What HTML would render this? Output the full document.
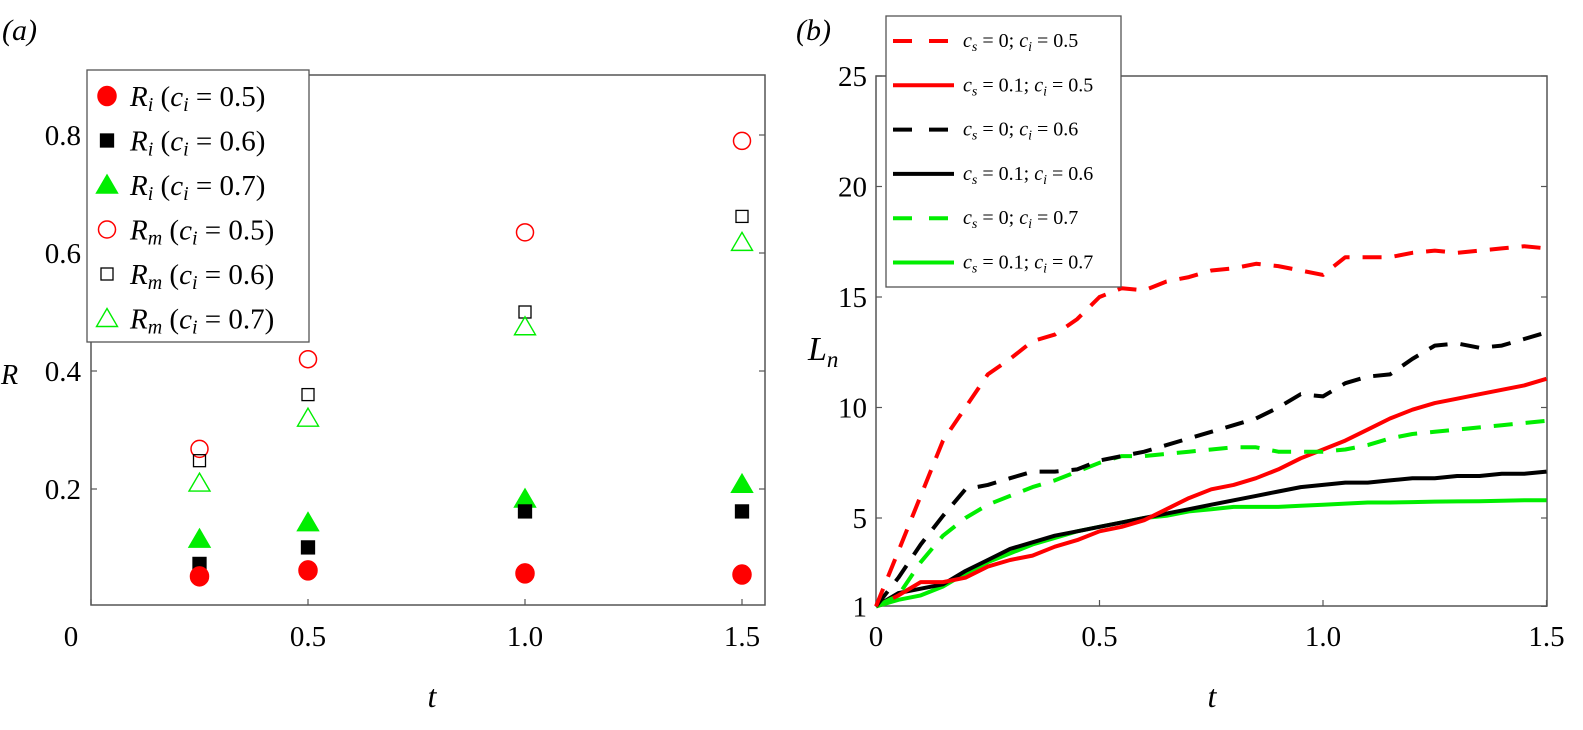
<!DOCTYPE html>
<html><head><meta charset="utf-8"><style>
html,body{margin:0;padding:0;background:#fff;}
svg, svg text{font-family:"Liberation Serif","DejaVu Serif",serif;}
</style></head><body>
<svg id="chart" width="1583" height="725" viewBox="0 0 1583 725" xmlns="http://www.w3.org/2000/svg" font-family="Liberation Serif, DejaVu Serif, serif">
<text x="2" y="40" font-size="30" font-style="italic">(a)</text>
<text x="796" y="40" font-size="30" font-style="italic">(b)</text>
<g id="pa"></g>
<g id="pb"></g>
</svg>
<script>
// Panel (a) data
const tA = [0.25, 0.5, 1.0, 1.5];
const Ri05 = [0.052, 0.062, 0.057, 0.055];
const Ri06 = [0.073, 0.101, 0.162, 0.162];
const Ri07 = [0.115, 0.143, 0.183, 0.208];
const Rm05 = [0.268, 0.42, 0.635, 0.79];
const Rm06 = [0.248, 0.36, 0.50, 0.662];
const Rm07 = [0.21, 0.32, 0.475, 0.618];
const aXTicks = [0, 0.5, 1.0, 1.5];
const aXTickLabels = ["0", "0.5", "1.0", "1.5"];
const aYTicks = [0.2, 0.4, 0.6, 0.8];
const aYTickLabels = ["0.2", "0.4", "0.6", "0.8"];
// Panel (b) data
const tB = [0,0.05,0.1,0.15,0.2,0.25,0.3,0.35,0.4,0.45,0.5,0.55,0.6,0.65,0.7,0.75,0.8,0.85,0.9,0.95,1.0,1.05,1.1,1.15,1.2,1.25,1.3,1.35,1.4,1.45,1.5];
const L_cs0_ci05 = [1,3.5,6,8.5,10,11.5,12.2,13,13.3,14,15,15.4,15.3,15.7,15.9,16.2,16.3,16.5,16.4,16.2,16.0,16.8,16.8,16.8,17,17.1,17,17.1,17.2,17.3,17.2];
const L_cs01_ci05 = [1,1.5,2.1,2.1,2.3,2.8,3.1,3.3,3.7,4.0,4.4,4.6,4.9,5.4,5.9,6.3,6.5,6.8,7.2,7.7,8.1,8.5,9,9.5,9.9,10.2,10.4,10.6,10.8,11.0,11.3];
const L_cs0_ci06 = [1,2.3,3.8,5.1,6.3,6.5,6.8,7.1,7.1,7.2,7.6,7.8,8.0,8.3,8.6,8.9,9.2,9.5,10,10.6,10.5,11.1,11.4,11.5,12.2,12.8,12.9,12.7,12.8,13.1,13.4];
const L_cs01_ci06 = [1,1.6,1.8,2.0,2.6,3.1,3.6,3.9,4.2,4.4,4.6,4.8,5.0,5.2,5.4,5.6,5.8,6.0,6.2,6.4,6.5,6.6,6.6,6.7,6.8,6.8,6.9,6.9,7.0,7.0,7.1];
const L_cs0_ci07 = [1,1.5,3,4.2,5,5.6,6,6.4,6.7,7.1,7.5,7.8,7.8,7.9,8.0,8.1,8.2,8.2,8.0,8.0,8.0,8.1,8.3,8.6,8.8,8.9,9.0,9.1,9.2,9.3,9.4];
const L_cs01_ci07 = [1,1.3,1.5,1.9,2.5,3.0,3.4,3.8,4.1,4.4,4.6,4.8,5.0,5.1,5.3,5.4,5.5,5.5,5.5,5.55,5.6,5.65,5.7,5.7,5.72,5.74,5.75,5.76,5.78,5.8,5.8];
const bXTicks = [0, 0.5, 1.0, 1.5];
const bXTickLabels = ["0", "0.5", "1.0", "1.5"];
const bYTicks = [1, 5, 10, 15, 20, 25];
const bYTickLabels = ["1", "5", "10", "15", "20", "25"];

const NS = "http://www.w3.org/2000/svg";
function mk(parent, tag, attrs, text) {
  const e = document.createElementNS(NS, tag);
  for (const k in attrs) e.setAttribute(k, attrs[k]);
  if (tag === "text") e.setAttribute("font-family", "Liberation Serif, DejaVu Serif, serif");
  if (text !== undefined) e.textContent = text;
  parent.appendChild(e);
  return e;
}
const RED = "#ff0000", GRN = "#00ee00", BLK = "#000";

// ---------- Panel A ----------
const pa = document.getElementById("pa");
const aL = 91, aR = 765, aT = 75, aB = 605;
const ax = v => 91 + v * 434;
const ay = v => 607 - v * 590;
let f = mk(pa, "rect", {x: aL, y: aT, width: aR - aL, height: aB - aT, fill: "none", stroke: "#555", "stroke-width": 1.5});


aXTicks.forEach((v, i) => {
  let l = mk(pa, "line", {x1: ax(v), x2: ax(v), y1: aB, y2: aB - 6, stroke: "#555", "stroke-width": 1.2});
  
  
  let t = mk(pa, "text", {x: i === 0 ? 71 : ax(v), y: 646, "font-size": 29, "text-anchor": "middle"}, aXTickLabels[i]);
  
  
});
aYTicks.forEach((v, i) => {
  let l = mk(pa, "line", {x1: aL, x2: aL + 6, y1: ay(v), y2: ay(v), stroke: "#555", "stroke-width": 1.2});
  
  
  let l2 = mk(pa, "line", {x1: aR, x2: aR - 6, y1: ay(v), y2: ay(v), stroke: "#555", "stroke-width": 1.2});
  
  
  let t = mk(pa, "text", {x: 81, y: ay(v) + 10, "font-size": 29, "text-anchor": "end"}, aYTickLabels[i]);
  
  
});
let xt = mk(pa, "text", {x: 432, y: 707, "font-size": 32, "font-style": "italic", "text-anchor": "middle"}, "t");


let yt = mk(pa, "text", {x: 1, y: 384, "font-size": 28, "font-style": "italic"}, "R");



function marker(g, type, cx, cy, color, filled) {
  let e;
  if (type === "c") e = mk(g, "ellipse", {cx, cy, rx: filled ? 9 : 8.5, ry: filled ? 9.5 : 8.5, fill: filled ? color : "none", stroke: color, "stroke-width": 1.5});
  else if (type === "s") { const s = filled ? 13 : 12; e = mk(g, "rect", {x: cx - s/2, y: cy - s/2, width: s, height: s, fill: filled ? color : "none", stroke: color, "stroke-width": 1.3}); }
  else e = mk(g, "polygon", {points: `${cx},${cy-10} ${cx+10.5},${cy+8} ${cx-10.5},${cy+8}`, fill: filled ? color : "none", stroke: color, "stroke-width": 1.4});
  return e;
}
const seriesA = [
  [Rm05, "c", RED, false, "rm-05"], [Rm06, "s", BLK, false, "rm-06"], [Rm07, "t", GRN, false, "rm-07"],
  [Ri07, "t", GRN, true, "ri-07"], [Ri06, "s", BLK, true, "ri-06"], [Ri05, "c", RED, true, "ri-05"]
];
seriesA.forEach(s => {
  const g = mk(pa, "g", {});
  
  
  s[0].forEach((v, i) => {
    const m = marker(g, s[1], ax(tA[i]), ay(v), s[2], s[3]);
    
    
  });
});
// legend A
const lgA = mk(pa, "g", {});


mk(lgA, "rect", {x: 87, y: 70, width: 222, height: 272, fill: "#fff", stroke: "#555", "stroke-width": 1.3});
const legA = [["c", RED, true, "i", "0.5"], ["s", BLK, true, "i", "0.6"], ["t", GRN, true, "i", "0.7"], ["c", RED, false, "m", "0.5"], ["s", BLK, false, "m", "0.6"], ["t", GRN, false, "m", "0.7"]];
legA.forEach((e, i) => {
  const y = 96 + i * 44.5;
  const g = mk(lgA, "g", {});
  
  
  marker(g, e[0], 107, y, e[1], e[2]);
  const t = mk(g, "text", {x: 130, y: y + 10, "font-size": 29});
  mk(t, "tspan", {"font-style": "italic"}, "R");
  mk(t, "tspan", {"font-style": "italic", "font-size": 20, dy: 5}, e[3]);
  mk(t, "tspan", {dy: -5}, " (");
  mk(t, "tspan", {"font-style": "italic"}, "c");
  mk(t, "tspan", {"font-style": "italic", "font-size": 20, dy: 5}, "i");
  mk(t, "tspan", {dy: -5}, " = " + e[4] + ")");
});

// ---------- Panel B ----------
const pb = document.getElementById("pb");
const bL = 876, bR = 1547, bT = 76, bB = 606;
const bx = v => 876 + v * 447;
const by = v => 628.5 - v * 22.1;
let fb = mk(pb, "rect", {x: bL, y: bT, width: bR - bL, height: bB - bT, fill: "none", stroke: "#555", "stroke-width": 1.5});


bXTicks.forEach((v, i) => {
  let l = mk(pb, "line", {x1: bx(v), x2: bx(v), y1: bB, y2: bB - 6, stroke: "#555", "stroke-width": 1.2});
  
  
  let t = mk(pb, "text", {x: bx(v), y: 646, "font-size": 29, "text-anchor": "middle"}, bXTickLabels[i]);
  
  
});
bYTicks.forEach((v, i) => {
  let l = mk(pb, "line", {x1: bL, x2: bL + 6, y1: by(v), y2: by(v), stroke: "#555", "stroke-width": 1.2});
  
  
  let l2 = mk(pb, "line", {x1: bR, x2: bR - 6, y1: by(v), y2: by(v), stroke: "#555", "stroke-width": 1.2});
  
  
  let t = mk(pb, "text", {x: 867, y: by(v) + 10, "font-size": 29, "text-anchor": "end"}, bYTickLabels[i]);
  
  
});
let xtb = mk(pb, "text", {x: 1212, y: 707, "font-size": 32, "font-style": "italic", "text-anchor": "middle"}, "t");


let ytb = mk(pb, "text", {x: 808, y: 360, "font-size": 34, "font-style": "italic"});


ytb.innerHTML = 'L<tspan font-size="23" dy="7">n</tspan>';

const seriesB = [
  [L_cs01_ci07, GRN, false, "0.1", "0.7"], [L_cs01_ci06, BLK, false, "0.1", "0.6"], [L_cs01_ci05, RED, false, "0.1", "0.5"],
  [L_cs0_ci07, GRN, true, "0", "0.7"], [L_cs0_ci06, BLK, true, "0", "0.6"], [L_cs0_ci05, RED, true, "0", "0.5"]
];
seriesB.forEach(s => {
  const d = s[0].map((v, i) => (i ? "L" : "M") + bx(tB[i]).toFixed(1) + "," + by(v).toFixed(1)).join(" ");
  const p = mk(pb, "path", {d, fill: "none", stroke: s[1], "stroke-width": 4, "stroke-linejoin": "round"});
  if (s[2]) p.setAttribute("stroke-dasharray", "19 13");
  
  
});
// legend B
const lgB = mk(pb, "g", {});


mk(lgB, "rect", {x: 886, y: 16, width: 235, height: 271, fill: "#fff", stroke: "#555", "stroke-width": 1.3});
const legB = [[RED, true, "0", "0.5"], [RED, false, "0.1", "0.5"], [BLK, true, "0", "0.6"], [BLK, false, "0.1", "0.6"], [GRN, true, "0", "0.7"], [GRN, false, "0.1", "0.7"]];
legB.forEach((e, i) => {
  const y = 41 + i * 44.3;
  const g = mk(lgB, "g", {});
  
  
  const l = mk(g, "line", {x1: 893, x2: 954, y1: y, y2: y, stroke: e[0], "stroke-width": 4});
  if (e[1]) l.setAttribute("stroke-dasharray", "19 17");
  const t = mk(g, "text", {x: 963, y: y + 6, "font-size": 20});
  mk(t, "tspan", {"font-style": "italic"}, "c");
  mk(t, "tspan", {"font-style": "italic", "font-size": 14, dy: 4}, "s");
  mk(t, "tspan", {dy: -4}, " = " + e[2] + "; ");
  mk(t, "tspan", {"font-style": "italic"}, "c");
  mk(t, "tspan", {"font-style": "italic", "font-size": 14, dy: 4}, "i");
  mk(t, "tspan", {dy: -4}, " = " + e[3]);
});
</script>
</body></html>
